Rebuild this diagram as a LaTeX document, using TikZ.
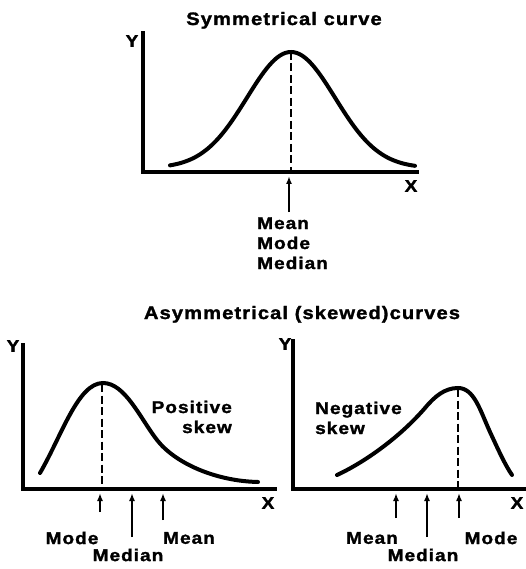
\documentclass[tikz,border=0pt]{standalone}
\usepackage{fontspec}
\setmainfont{Liberation Sans}[FakeStretch=1.12,LetterSpace=6,BoldFeatures={FakeBold=1.6}]
\usetikzlibrary{arrows.meta}
\begin{document}
\begin{tikzpicture}[x=1pt,y=-1pt,
  lbl/.style={font=\fontsize{17}{20}\selectfont\bfseries, inner sep=0pt},
  ttl/.style={font=\fontsize{18}{21}\selectfont\bfseries, inner sep=0pt},
  axis/.style={line width=3.2pt, line cap=rect},
  crv/.style={line width=4pt, line cap=round},
  dsh/.style={line width=2pt, dash pattern=on 8pt off 3.5pt},
  arr/.style={line width=1.8pt, -{Latex[length=8pt,width=6pt]}}]
\useasboundingbox (0,0) rectangle (525,569);
% ---------- top ----------
\node[ttl, anchor=base] (t1) at (284,25) {Symmetrical curve};
\coordinate (o1) at (143,172);
\coordinate (y1) at (143,33);
\coordinate (x1) at (417,172);
\draw[axis] (y1) -- (o1) -- (x1);
\node[lbl] (Y1) at (132,41) {Y};
\node[lbl] (X1) at (411,186) {X};
\draw[crv] plot[domain=170:415, samples=90] (\x, {168-116*exp(-((\x-291)/44)^2/2)});
\coordinate (p1) at (291,52);
\coordinate (b1) at (291,172);
\draw[dsh] (p1) -- (b1);
\coordinate (a1h) at (289,176);
\coordinate (a1t) at (289,212);
\draw[arr] (a1t) -- (a1h);
\node[lbl, anchor=base west] (m1) at (257,229) {Mean};
\node[lbl, anchor=base west] (m2) at (257,249) {Mode};
\node[lbl, anchor=base west] (m3) at (257,269) {Median};
% ---------- bottom title ----------
\node[ttl, anchor=base] (t2) at (302,319) {Asymmetrical (skewed)curves};
% ---------- bottom left ----------
\coordinate (o2) at (23,489);
\coordinate (y2) at (23,345);
\coordinate (x2) at (275,489);
\draw[axis] (y2) -- (o2) -- (x2);
\node[lbl] (Y2) at (13,346) {Y};
\node[lbl] (X2) at (268,503) {X};
\draw[crv] (40,473) .. controls (62,435) and (78,383) .. (103,383)
  .. controls (125,383) and (140,418) .. (157,440)
  .. controls (175,463) and (215,481) .. (258,482);
\coordinate (p2) at (102,384);
\coordinate (b2) at (102,489);
\draw[dsh] (p2) -- (b2);
\node[lbl] (mo2) at (72,538) {Mode};
\node[lbl] (md2) at (128,555) {Median};
\node[lbl] (mn2) at (189,538) {Mean};
\coordinate (h21) at (100,493);
\coordinate (t21) at (100,512);
\coordinate (h22) at (132,493);
\coordinate (t22) at (132,537);
\coordinate (h23) at (163,493);
\coordinate (t23) at (163,520);
\draw[arr] (t21) -- (h21);
\draw[arr] (t22) -- (h22);
\draw[arr] (t23) -- (h23);
\node[lbl, anchor=base east] (ps1) at (232,413) {Positive};
\node[lbl, anchor=base east] (ps2) at (232,433) {skew};
% ---------- bottom right ----------
\coordinate (o3) at (293,489);
\coordinate (y3) at (293,341);
\coordinate (x3) at (525,489);
\draw[axis] (y3) -- (o3) -- (x3);
\node[lbl] (Y3) at (285,344) {Y};
\node[lbl] (X3) at (517,503) {X};
\draw[crv] (337,475) .. controls (365,462) and (400,437) .. (425,408)
  .. controls (435,396) and (445,388) .. (458,388)
  .. controls (474,388) and (480,410) .. (490,432)
  .. controls (497,447) and (505,465) .. (512,475);
\coordinate (p3) at (458,389);
\coordinate (b3) at (458,489);
\draw[dsh] (p3) -- (b3);
\node[lbl] (mn3) at (372,538) {Mean};
\node[lbl] (md3) at (423,555) {Median};
\node[lbl] (mo3) at (491,538) {Mode};
\coordinate (h31) at (396,493);
\coordinate (t31) at (396,518);
\coordinate (h32) at (427,493);
\coordinate (t32) at (427,537);
\coordinate (h33) at (459,493);
\coordinate (t33) at (459,518);
\draw[arr] (t31) -- (h31);
\draw[arr] (t32) -- (h32);
\draw[arr] (t33) -- (h33);
\node[lbl, anchor=base west] (ns1) at (315,414) {Negative};
\node[lbl, anchor=base west] (ns2) at (315,434) {skew};
\end{tikzpicture}
\end{document}
